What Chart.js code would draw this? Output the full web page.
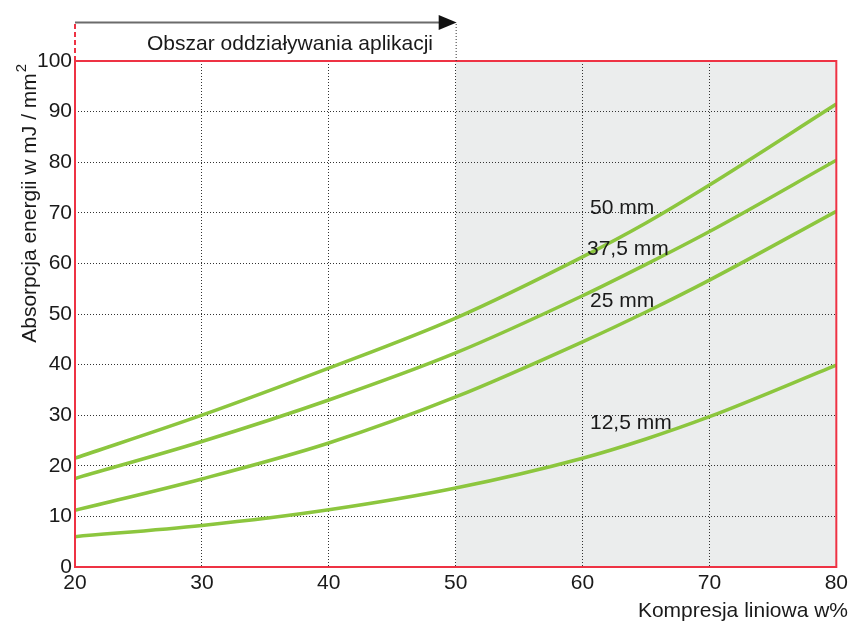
<!DOCTYPE html>
<html>
<head>
<meta charset="utf-8">
<script src="https://cdn.jsdelivr.net/npm/chart.js@4.4.0/dist/chart.umd.min.js"></script>
<style>
  html, body { margin: 0; padding: 0; background: #fff; }
  #wrap { width: 852px; height: 623px; }
</style>
</head>
<body>
<div id="wrap"><canvas id="myChart" width="852" height="623"></canvas></div>
<script>
// compression (x) values and energy absorption for each foam thickness
const compression = [20, 30, 40, 50, 60, 65, 70, 80];
const mm50   = [21.5, 30.0, 39.3, 49.2, 61.3, 68.0, 75.5, 91.5];
const mm37_5 = [17.5, 24.8, 33.0, 42.3, 53.6, 59.8, 66.3, 80.4];
const mm25   = [11.2, 17.4, 24.5, 33.6, 44.5, 50.4, 56.7, 70.3];
const mm12_5 = [6.0, 8.2, 11.3, 15.6, 21.5, 25.3, 29.7, 39.9];

const seriesNames = ['50 mm', '37,5 mm', '25 mm', '12,5 mm'];
const labelPos = [[590, 214], [587, 255], [590, 307], [590, 429]]; // label anchors in px

const xTicks = [20, 30, 40, 50, 60, 70, 80];
const yTicks = [0, 10, 20, 30, 40, 50, 60, 70, 80, 90, 100];

const green = '#8cc63e';
const red = '#ee3344';
const FONT = 'Liberation Sans, Arial, sans-serif';

function pts(ys) {
  return compression.map((x, i) => ({ x: x, y: ys[i] }));
}

// shaded area, frame, arrow, labels
const decor = {
  id: 'decor',
  beforeDraw(chart) {
    const { ctx, chartArea: a, scales } = chart;
    const x50 = scales.x.getPixelForValue(50);
    ctx.save();
    ctx.fillStyle = '#ebeded';
    ctx.fillRect(x50, a.top, a.right - x50, a.bottom - a.top);
    ctx.restore();
  },
  afterDraw(chart) {
    const { ctx, chartArea: a, scales } = chart;
    const x50 = scales.x.getPixelForValue(50);
    ctx.save();
    ctx.strokeStyle = red;
    ctx.lineWidth = 2;
    ctx.strokeRect(a.left, a.top, a.right - a.left, a.bottom - a.top);

    // red dashed extension on the left
    ctx.setLineDash([5, 3]);
    ctx.beginPath();
    ctx.moveTo(a.left, a.top);
    ctx.lineTo(a.left, 22);
    ctx.stroke();

    // dotted line at 50 up to arrow
    ctx.setLineDash([1, 2]);
    ctx.strokeStyle = '#333';
    ctx.lineWidth = 1;
    ctx.beginPath();
    ctx.moveTo(x50 + 0.5, a.top);
    ctx.lineTo(x50 + 0.5, 22);
    ctx.stroke();
    ctx.setLineDash([]);

    // arrow
    ctx.strokeStyle = '#6b6b6b';
    ctx.lineWidth = 2;
    ctx.beginPath();
    ctx.moveTo(a.left, 22.5);
    ctx.lineTo(x50 - 12, 22.5);
    ctx.stroke();
    ctx.fillStyle = '#111';
    ctx.beginPath();
    ctx.moveTo(x50 - 17, 15);
    ctx.lineTo(x50 + 1, 22.5);
    ctx.lineTo(x50 - 17, 30);
    ctx.closePath();
    ctx.fill();

    ctx.fillStyle = '#1a1a1a';
    ctx.font = '21px ' + FONT;
    ctx.textAlign = 'center';
    ctx.textBaseline = 'alphabetic';
    ctx.fillText('Obszar oddziaływania aplikacji', 290, 50);

    // axis titles
    ctx.textAlign = 'right';
    ctx.fillText('Kompresja liniowa w%', 848, 617);

    ctx.save();
    ctx.translate(36, 208);
    ctx.rotate(-Math.PI / 2);
    ctx.textAlign = 'center';
    const t = 'Absorpcja energii w mJ / mm';
    ctx.fillText(t, 0, 0);
    const w = ctx.measureText(t).width;
    ctx.font = '15px ' + FONT;
    ctx.textAlign = 'left';
    ctx.fillText('2', w / 2 + 1, -10);
    ctx.restore();

    // series labels
    ctx.font = '21px ' + FONT;
    ctx.textAlign = 'left';
    seriesNames.forEach((n, i) => {
      ctx.fillText(n, labelPos[i][0], labelPos[i][1]);
    });
    ctx.restore();
  }
};

const gridOpts = {
  color: '#333',
  lineWidth: 1,
  drawTicks: false
};

const myChart = new Chart(document.querySelector('#myChart').getContext('2d'), {
  type: 'scatter',
  data: {
    datasets: [mm50, mm37_5, mm25, mm12_5].map((ys, i) => ({
      label: seriesNames[i],
      data: pts(ys),
      showLine: true,
      borderColor: green,
      backgroundColor: green,
      borderWidth: 3.5,
      pointRadius: 0,
      cubicInterpolationMode: 'monotone'
    }))
  },
  options: {
    responsive: false,
    animation: false,
    layout: { padding: { top: 61, right: 15, left: 0, bottom: 0 } },
    plugins: { legend: { display: false }, tooltip: { enabled: false } },
    scales: {
      x: {
        type: 'linear',
        min: 20, max: 80,
        afterBuildTicks: (s) => { s.ticks = xTicks.map(v => ({ value: v })); },
        afterFit: (s) => { s.height = 56; },
        grid: gridOpts,
        border: { display: false, dash: [1, 2] },
        ticks: { color: '#1a1a1a', font: { size: 21, family: FONT }, padding: 4, maxRotation: 0 }
      },
      y: {
        min: 0, max: 100,
        afterBuildTicks: (s) => { s.ticks = yTicks.map(v => ({ value: v })); },
        afterFit: (s) => { s.width = 75; },
        grid: gridOpts,
        border: { display: false, dash: [1, 2] },
        ticks: { color: '#1a1a1a', font: { size: 21, family: FONT }, padding: 3 }
      }
    }
  },
  plugins: [decor]
});
</script>
</body>
</html>
